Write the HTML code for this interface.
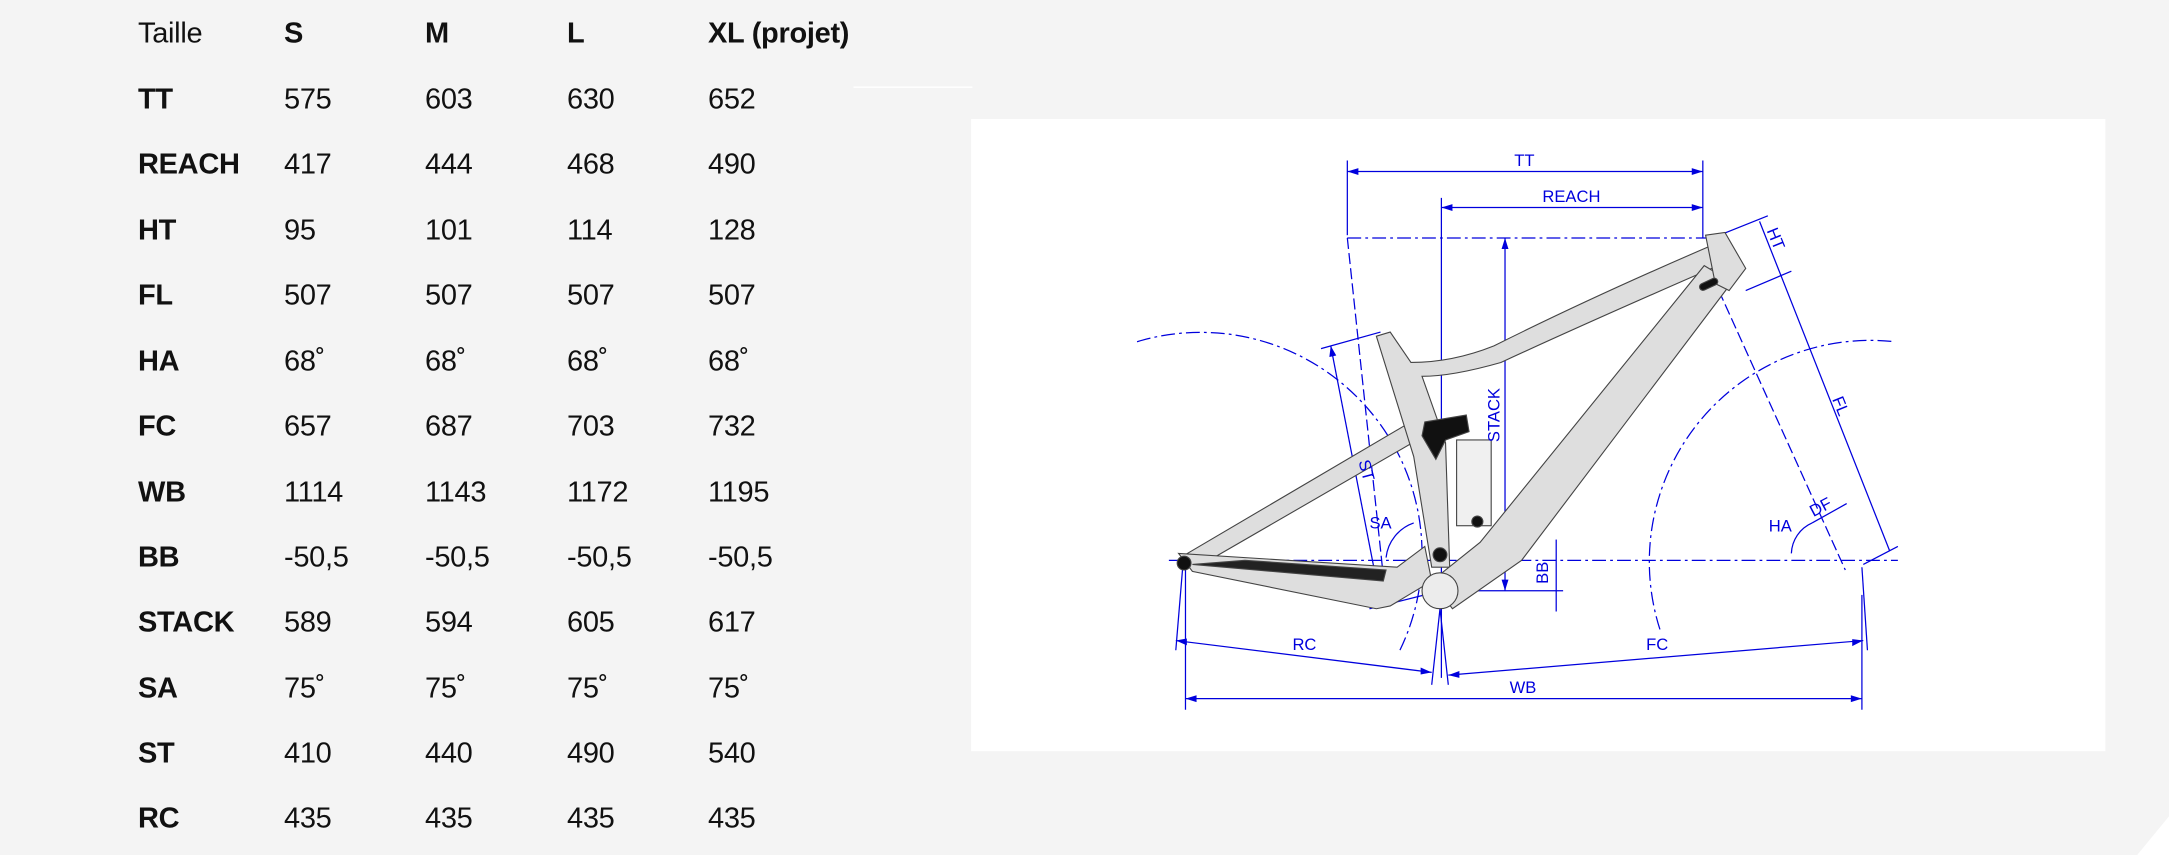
<!DOCTYPE html>
<html><head><meta charset="utf-8"><style>
body{margin:0;width:2169px;height:855px;background:#f4f4f4;overflow:hidden;position:relative;font-family:"Liberation Sans",sans-serif;}
.t{position:absolute;font-size:29px;color:#111;line-height:1;transform:translateY(-50%);letter-spacing:-0.3px}
.b{font-weight:bold}
svg{position:absolute;left:0;top:0}
</style></head><body>
<svg width="2169" height="855" viewBox="0 0 1568 618" preserveAspectRatio="none">
<line x1="617" y1="63" x2="703" y2="63" stroke="#fff" stroke-width="1"/>
<polygon points="1545,618 1568,590 1568,618" fill="#fff"/>
<rect x="702" y="86" width="820" height="457" fill="#fff"/>
<g fill="none" stroke="#0000dd" stroke-width="0.9">
<path d="M822,247 A160,160 0 0 1 1012,470" stroke-dasharray="10,3,2,3"/>
<path d="M1200,455 A160,160 0 0 1 1370,247" stroke-dasharray="10,3,2,3"/>
<line x1="845" y1="405" x2="1372" y2="405" stroke-dasharray="10,3,2,3"/>
<line x1="974" y1="172" x2="1237" y2="172" stroke-dasharray="10,3,2,3"/>
<line x1="974" y1="172" x2="1002" y2="435" stroke-dasharray="8,3"/>
<line x1="1238" y1="200" x2="1334" y2="412" stroke-dasharray="8,3"/>
<line x1="974" y1="116" x2="974" y2="170"/><line x1="1231" y1="116" x2="1231" y2="172"/>
<line x1="974" y1="124" x2="1231" y2="124"/>
<line x1="1042" y1="143" x2="1042" y2="490"/>
<line x1="1042" y1="150" x2="1231" y2="150"/>
<line x1="1088" y1="172" x2="1088" y2="427"/>
<line x1="1030" y1="427" x2="1130" y2="427"/>
<line x1="1125" y1="390" x2="1125" y2="442"/>
<line x1="1243" y1="170" x2="1278" y2="156"/>
<line x1="1262" y1="210" x2="1295" y2="196"/>
<line x1="1272" y1="160" x2="1366" y2="398"/>
<line x1="1347" y1="408" x2="1372" y2="395"/>
<line x1="955" y1="252" x2="998" y2="240"/>
<line x1="962" y1="250" x2="998" y2="435"/>
<line x1="990" y1="440" x2="1030" y2="430"/>
<path d="M1002,403 A30,30 0 0 1 1022,378"/>
<path d="M1295,400 A25,25 0 0 1 1310,378"/>
<line x1="1310" y1="378" x2="1335" y2="364"/>
<line x1="855" y1="410" x2="850" y2="470"/>
<line x1="1041" y1="440" x2="1035" y2="495"/>
<line x1="1041" y1="440" x2="1047" y2="495"/>
<line x1="1346" y1="410" x2="1350" y2="470"/>
<line x1="850" y1="463" x2="1035" y2="486"/>
<line x1="1047" y1="488" x2="1347" y2="463"/>
<line x1="857" y1="410" x2="857" y2="513"/><line x1="1346" y1="430" x2="1346" y2="513"/>
<line x1="857" y1="505" x2="1346" y2="505"/>
</g>
<g fill="#0000dd">
<path d="M974,124 l8,-2.5 v5z M1231,124 l-8,-2.5 v5z M1042,150 l8,-2.5 v5z M1231,150 l-8,-2.5 v5z M1088,172 l-2.5,8 h5z M1088,427 l-2.5,-8 h5z M857,505 l8,-2.5 v5z M1346,505 l-8,-2.5 v5z M850,463 l8,-1.5 v5z M1035,486 l-8,-3.5 v5z M1047,488 l8,-3 v5z M1347,463 l-8,-1 v5z M962,250 l-1,8 5,-1z M998,435 l-4,-7 5,-1z"/>
</g>
<g stroke="#444" stroke-width="0.8" fill="#dedede">
<path d="M855,402 L1025,302 L1035,312 L862,412Z"/>
<path d="M852,400 L1010,410 L1030,395 L1035,420 L1005,438 L995,440 L862,413Z"/>
<path d="M862,408 L1000,420 L1002,412 L900,405Z" fill="#222"/>
<path d="M995,243 L1005,240 L1020,262 Q1050,262 1080,250 Q1150,215 1236,178 L1242,192 Q1150,232 1085,262 Q1050,272 1028,272 L1045,320 L1048,410 L1035,410 L1022,330Z"/>
<path d="M1232,192 L1252,204 L1100,405 L1050,440 L1035,420 L1070,392Z"/>
<path d="M1233,170 L1247,168 L1262,194 L1250,210 L1240,205Z"/>
<rect x="1053" y="318" width="25" height="62" fill="#f0f0f0"/>
<circle cx="1041" cy="427" r="13" fill="#ececec"/>
<path d="M1030,305 L1060,300 L1062,312 L1045,318 L1038,332 L1028,315Z" fill="#111"/>
<circle cx="1068" cy="377" r="4" fill="#111"/>
<circle cx="1041" cy="401" r="5" fill="#111"/>
<circle cx="856" cy="407" r="5" fill="#111"/>
<rect x="1228" y="203" width="14" height="5" rx="2.5" fill="#111" transform="rotate(-25 1235 205)"/>
</g>
<g fill="#0000dd" font-family="Liberation Sans, sans-serif" font-size="12">
<text x="1102" y="120" text-anchor="middle">TT</text>
<text x="1136" y="146" text-anchor="middle">REACH</text>
<text x="1198" y="470" text-anchor="middle">FC</text>
<text x="943" y="470" text-anchor="middle">RC</text>
<text x="1101" y="501" text-anchor="middle">WB</text>
<text x="998" y="382" text-anchor="middle">SA</text>
<text x="1287" y="384" text-anchor="middle">HA</text>
<text transform="translate(1084,300) rotate(-90)" text-anchor="middle">STACK</text>
<text transform="translate(1119,414) rotate(-90)" text-anchor="middle">BB</text>
<text transform="translate(984,341) rotate(75)" text-anchor="middle">ST</text>
<text transform="translate(1280,174) rotate(68)" text-anchor="middle">HT</text>
<text transform="translate(1327,295) rotate(68)" text-anchor="middle">FL</text>
<text transform="translate(1318,370) rotate(-28)" text-anchor="middle">DF</text>
</g>
</svg>
<div class="t" style="left:138px;top:34px">Taille</div>
<div class="t b" style="left:284px;top:34px">S</div>
<div class="t b" style="left:425px;top:34px">M</div>
<div class="t b" style="left:567px;top:34px">L</div>
<div class="t b" style="left:708px;top:34px">XL (projet)</div>

<div class="t b" style="left:138px;top:100px">TT</div><div class="t" style="left:284px;top:100px">575</div><div class="t" style="left:425px;top:100px">603</div><div class="t" style="left:567px;top:100px">630</div><div class="t" style="left:708px;top:100px">652</div>
<div class="t b" style="left:138px;top:165px">REACH</div><div class="t" style="left:284px;top:165px">417</div><div class="t" style="left:425px;top:165px">444</div><div class="t" style="left:567px;top:165px">468</div><div class="t" style="left:708px;top:165px">490</div>
<div class="t b" style="left:138px;top:231px">HT</div><div class="t" style="left:284px;top:231px">95</div><div class="t" style="left:425px;top:231px">101</div><div class="t" style="left:567px;top:231px">114</div><div class="t" style="left:708px;top:231px">128</div>
<div class="t b" style="left:138px;top:296px">FL</div><div class="t" style="left:284px;top:296px">507</div><div class="t" style="left:425px;top:296px">507</div><div class="t" style="left:567px;top:296px">507</div><div class="t" style="left:708px;top:296px">507</div>
<div class="t b" style="left:138px;top:362px">HA</div><div class="t" style="left:284px;top:362px">68˚</div><div class="t" style="left:425px;top:362px">68˚</div><div class="t" style="left:567px;top:362px">68˚</div><div class="t" style="left:708px;top:362px">68˚</div>
<div class="t b" style="left:138px;top:427px">FC</div><div class="t" style="left:284px;top:427px">657</div><div class="t" style="left:425px;top:427px">687</div><div class="t" style="left:567px;top:427px">703</div><div class="t" style="left:708px;top:427px">732</div>
<div class="t b" style="left:138px;top:493px">WB</div><div class="t" style="left:284px;top:493px">1114</div><div class="t" style="left:425px;top:493px">1143</div><div class="t" style="left:567px;top:493px">1172</div><div class="t" style="left:708px;top:493px">1195</div>
<div class="t b" style="left:138px;top:558px">BB</div><div class="t" style="left:284px;top:558px">-50,5</div><div class="t" style="left:425px;top:558px">-50,5</div><div class="t" style="left:567px;top:558px">-50,5</div><div class="t" style="left:708px;top:558px">-50,5</div>
<div class="t b" style="left:138px;top:623px">STACK</div><div class="t" style="left:284px;top:623px">589</div><div class="t" style="left:425px;top:623px">594</div><div class="t" style="left:567px;top:623px">605</div><div class="t" style="left:708px;top:623px">617</div>
<div class="t b" style="left:138px;top:689px">SA</div><div class="t" style="left:284px;top:689px">75˚</div><div class="t" style="left:425px;top:689px">75˚</div><div class="t" style="left:567px;top:689px">75˚</div><div class="t" style="left:708px;top:689px">75˚</div>
<div class="t b" style="left:138px;top:754px">ST</div><div class="t" style="left:284px;top:754px">410</div><div class="t" style="left:425px;top:754px">440</div><div class="t" style="left:567px;top:754px">490</div><div class="t" style="left:708px;top:754px">540</div>
<div class="t b" style="left:138px;top:819px">RC</div><div class="t" style="left:284px;top:819px">435</div><div class="t" style="left:425px;top:819px">435</div><div class="t" style="left:567px;top:819px">435</div><div class="t" style="left:708px;top:819px">435</div>
</body></html>
